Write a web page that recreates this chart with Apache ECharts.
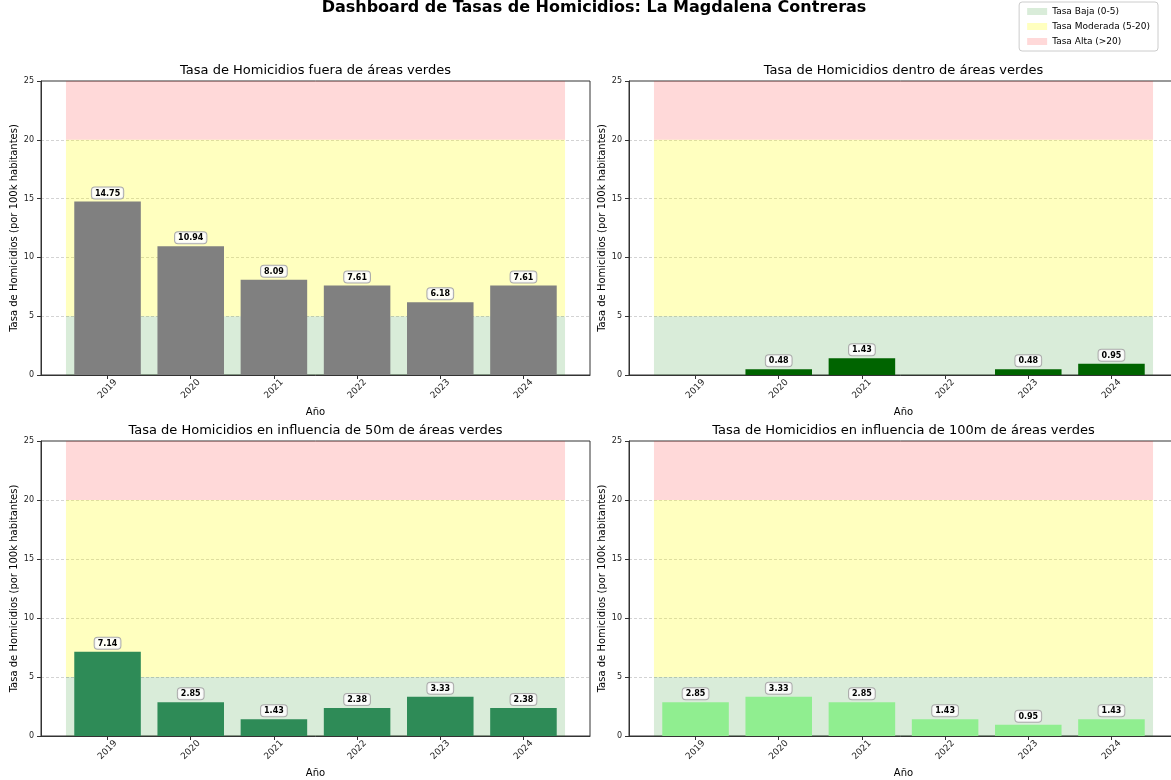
<!DOCTYPE html>
<html>
<head>
<meta charset="utf-8">
<script src="https://cdn.jsdelivr.net/npm/echarts@6/dist/echarts.min.js"></script>
<style>html,body{margin:0;padding:0;background:#fff}#chart{width:1171px;height:780px}</style>
</head>
<body>
<div id="chart"></div>
<script>
const years = ['2019', '2020', '2021', '2022', '2023', '2024'];
const fuera = [14.75, 10.94, 8.09, 7.61, 6.18, 7.61];
const dentro = [0, 0.48, 1.43, 0, 0.48, 0.95];
const infl50 = [7.14, 2.85, 1.43, 2.38, 3.33, 2.38];
const infl100 = [2.85, 3.33, 2.85, 1.43, 0.95, 1.43];
const panelTitles = [
  'Tasa de Homicidios fuera de áreas verdes',
  'Tasa de Homicidios dentro de áreas verdes',
  'Tasa de Homicidios en influencia de 50m de áreas verdes',
  'Tasa de Homicidios en influencia de 100m de áreas verdes'
];
const panelValues = [fuera, dentro, infl50, infl100];
const barColors = ['#808080', '#006400', '#2e8b57', '#90ee90'];
const bands = [
  {name: 'Tasa Baja (0-5)', from: 0, to: 5, color: 'rgba(0,128,0,0.15)'},
  {name: 'Tasa Moderada (5-20)', from: 5, to: 20, color: 'rgba(255,255,0,0.25)'},
  {name: 'Tasa Alta (>20)', from: 20, to: 25, color: 'rgba(255,0,0,0.15)'}
];

const FONT = 'DejaVu Sans';
const gridPos = [
  {left: 41, top: 81, width: 549, height: 294},
  {left: 629, top: 81, width: 549, height: 294},
  {left: 41, top: 441, width: 549, height: 295},
  {left: 629, top: 441, width: 549, height: 295}
];
const idx = years.map((_, i) => i);

const option = {
  animation: false,
  backgroundColor: '#fff',
  textStyle: {fontFamily: FONT},
  title: [{
    text: 'Dashboard de Tasas de Homicidios: La Magdalena Contreras',
    left: 594, top: 0, textAlign: 'center', padding: 0,
    textStyle: {fontFamily: FONT, fontSize: 16, fontWeight: 'bold', color: '#000'}
  }].concat(panelTitles.map((t, i) => ({
    text: t,
    left: gridPos[i].left + gridPos[i].width / 2,
    top: gridPos[i].top - 17,
    textAlign: 'center', padding: 0,
    textStyle: {fontFamily: FONT, fontSize: 13, fontWeight: 'normal', color: '#000'}
  }))),
  legend: {
    orient: 'vertical', right: 13, top: 2,
    data: bands.map(b => ({name: b.name, icon: 'rect'})),
    itemWidth: 20, itemHeight: 7, itemGap: 6,
    textStyle: {fontFamily: FONT, fontSize: 9, color: '#000'},
    backgroundColor: '#fff', borderColor: '#ccc', borderWidth: 1, borderRadius: 3,
    padding: [5, 8]
  },
  grid: gridPos.map(g => Object.assign({
    show: true, borderColor: '#333', borderWidth: 1, backgroundColor: 'transparent',
    containLabel: false, outerBoundsMode: 'none'
  }, g)),
  xAxis: gridPos.map((g, i) => ({
    type: 'value', gridIndex: i, min: -0.8, max: 5.8,
    name: 'Año', nameLocation: 'middle', nameGap: 32,
    nameTextStyle: {fontFamily: FONT, fontSize: 10, color: '#000'},
    axisLine: {show: true, onZero: false, lineStyle: {color: '#333', width: 1}},
    axisTick: {show: true, customValues: idx, length: 4, lineStyle: {color: '#333'}},
    axisLabel: {
      customValues: idx, rotate: 45, margin: 14, align: 'center', verticalAlign: 'middle',
      formatter: v => years[Math.round(v)],
      fontFamily: FONT, fontSize: 9, color: '#222'
    },
    splitLine: {show: false}
  })),
  yAxis: gridPos.map((g, i) => ({
    type: 'value', gridIndex: i, min: 0, max: 25, interval: 5,
    name: 'Tasa de Homicidios (por 100k habitantes)', nameLocation: 'middle', nameGap: 22,
    nameTextStyle: {fontFamily: FONT, fontSize: 10, color: '#000'},
    axisLine: {show: true, onZero: false, lineStyle: {color: '#333', width: 1}},
    axisTick: {show: true, length: 4, lineStyle: {color: '#333'}},
    axisLabel: {fontFamily: FONT, fontSize: 8, color: '#222', margin: 7},
    splitLine: {show: true, showMinLine: false, showMaxLine: false,
      lineStyle: {color: '#c8c8c8', type: [3, 2], width: 0.8}}
  })),
  series: []
};

gridPos.forEach((g, i) => {
  bands.forEach(b => {
    option.series.push({
      type: 'line', name: b.name, xAxisIndex: i, yAxisIndex: i,
      data: [], itemStyle: {color: b.color}, lineStyle: {color: b.color}, z: 1,
      markArea: {
        silent: true,
        itemStyle: {color: b.color},
        data: [[{coord: [-0.5, b.from]}, {coord: [5.5, b.to]}]]
      }
    });
  });
  option.series.push({
    type: 'custom', name: panelTitles[i], xAxisIndex: i, yAxisIndex: i, z: 5,
    itemStyle: {color: barColors[i]},
    data: panelValues[i].map((v, k) => [k, v]),
    renderItem: function (params, api) {
      const x = api.value(0), v = api.value(1);
      const top = api.coord([x, v]);
      const base = api.coord([x, 0]);
      const w = api.size([0.8, 0])[0];
      const el = {
        type: 'rect',
        shape: {x: top[0] - w / 2, y: top[1], width: w, height: base[1] - top[1]},
        style: {fill: barColors[i]}
      };
      if (v > 0) {
        el.textContent = {
          style: {
            text: v.toFixed(2), fontFamily: FONT, fontSize: 8, fontWeight: 'bold', fill: '#000',
            backgroundColor: 'rgba(255,255,255,0.85)', borderColor: '#aaa', borderWidth: 1,
            borderRadius: 3, padding: [2, 3, 1, 3]
          }
        };
        el.textConfig = {position: 'top', distance: 3};
      }
      return el;
    }
  });
});

const chart = echarts.init(document.getElementById('chart'), null, {renderer: 'canvas'});
chart.setOption(option);
</script>
</body>
</html>
